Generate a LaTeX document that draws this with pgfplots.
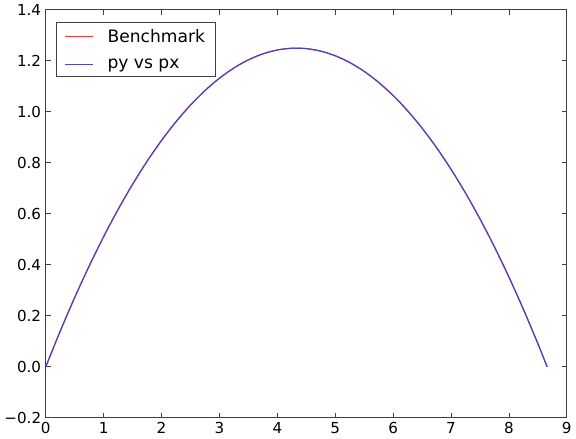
\documentclass[border=0pt]{standalone}
\usepackage{pgfplots}
\pgfplotsset{compat=1.18}
\usepackage{fontspec}
\setmainfont{DejaVu Sans}
\pgfplotstableread{
x y
0 0
0.25 0.14017
0.5 0.27201
0.75 0.39551
1 0.51068
1.25 0.61752
1.5 0.71603
1.75 0.80619
2 0.88803
2.25 0.96154
2.5 1.02671
2.75 1.08354
3 1.13205
3.25 1.17222
3.5 1.20406
3.75 1.22756
4 1.24273
4.25 1.24957
4.5 1.24808
4.75 1.23824
5 1.22008
5.25 1.19359
5.5 1.15876
5.75 1.11559
6 1.0641
6.25 1.00427
6.5 0.93611
6.75 0.85961
7 0.77478
7.25 0.68162
7.5 0.58013
7.75 0.47029
8 0.35213
8.25 0.22564
8.5 0.09081
8.66 0
}\traj
\begin{document}
\begin{tikzpicture}
\begin{axis}[
  scale only axis,
  width=396pt, height=310pt,
  xmin=0, xmax=9, ymin=-0.2, ymax=1.4,
  xtick={0,1,...,9},
  ytick={-0.2,0,0.2,0.4,0.6,0.8,1.0,1.2,1.4},
  yticklabels={−0.2,0.0,0.2,0.4,0.6,0.8,1.0,1.2,1.4},
  /pgf/number format/assume math mode=true,
  tick align=inside,
  tick pos=both,
  major tick length=4pt,
  axis line style={black!75, line width=0.8pt},
  every tick/.style={black!75, line width=0.6pt},
  ticklabel style={font=\fontsize{11.5}{13}\selectfont},
  legend style={at={(0.02,0.97)}, anchor=north west, draw=black!75, line width=0.8pt,
    font=\fontsize{13}{15}\selectfont, row sep=7pt, inner xsep=6pt, inner ysep=3pt},
  legend cell align=left,
  legend image code/.code={\draw[#1, line width=1pt] (0cm,0cm) -- (0.75cm,0cm);},
]
\addplot[red!80, line width=0.9pt, smooth] table {\traj};
\addlegendentry{\ \ Benchmark}
\addplot[color={rgb,255:red,70;green,70;blue,200}, line width=0.9pt, smooth] table {\traj};
\addlegendentry{\ \ py vs px}
\end{axis}
\end{tikzpicture}
\end{document}
